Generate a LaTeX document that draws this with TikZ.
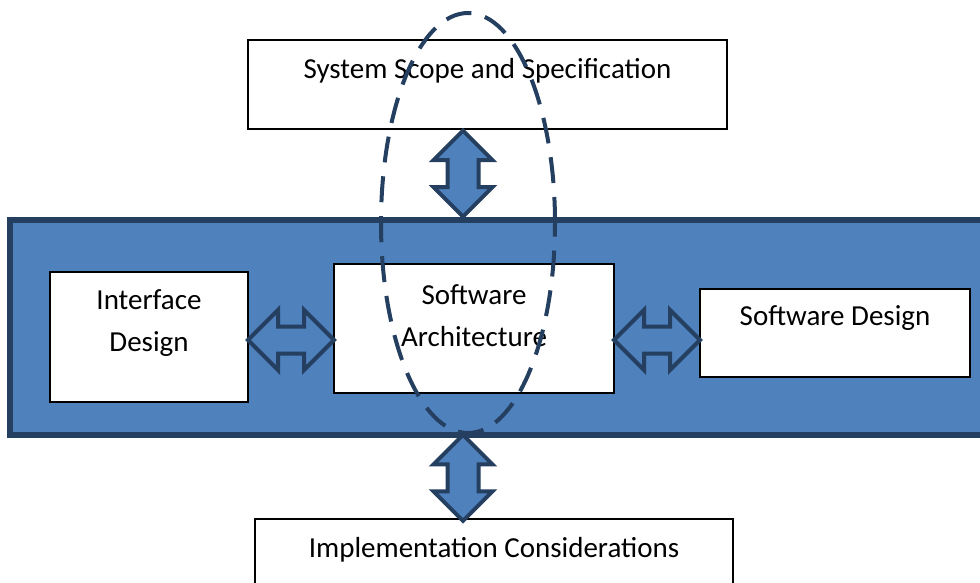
\documentclass[tikz,border=0pt]{standalone}
\usepackage{fontspec}
\setmainfont{Carlito}
\usetikzlibrary{calc,shapes.arrows,shapes.geometric}
\definecolor{bandblue}{HTML}{4F81BD}
\definecolor{darkblue}{HTML}{243F60}

\begin{document}
\begin{tikzpicture}[
    x=1pt, y=-1pt,
    every node/.style={font=\fontsize{29}{42}\selectfont},
    box/.style={rectangle, draw=black, fill=white, line width=2pt},
    band/.style={rectangle, draw=darkblue, fill=bandblue, line width=5.5pt},
    dblarrow/.style={double arrow, draw=darkblue, fill=bandblue, line width=4pt,
        minimum width=0pt, inner xsep=0pt, minimum height=86pt},
    scopeline/.style={ellipse, draw=darkblue, line width=4pt, dash pattern=on 26pt off 14pt}
]
\useasboundingbox (0,0) rectangle (980,582);

% Define nodes
\node[band, minimum width=980pt, minimum height=215pt] (panel) at (500,327.5) {};
\node[box, minimum width=479pt, minimum height=89pt,
    label={[yshift=14pt]center:System Scope and Specification}] (scope) at (487.5,84.5) {};
\node[box, minimum width=198pt, minimum height=130pt,
    label={[yshift=14pt, align=center]center:Interface\\Design}] (iface) at (149,337) {};
\node[box, minimum width=280pt, minimum height=129pt,
    label={[yshift=13pt, align=center]center:Software\\Architecture}] (arch) at (474,328.5) {};
\node[box, minimum width=270pt, minimum height=88pt,
    label={[yshift=15pt]center:Software Design}] (design) at (835,333) {};
\node[box, minimum width=478pt, minimum height=89pt,
    label={[yshift=14pt]center:Implementation Considerations}] (impl) at (494,563.5) {};

\coordinate (axis) at (463,0);
\coordinate (row) at (0,340);

% Connect nodes
\node[dblarrow, inner ysep=13.5pt, double arrow head extend=14pt, rotate=90] (uparrow)
    at ($(axis |- scope.south)!.5!(axis |- panel.north)$) {};
\node[dblarrow, inner ysep=13.5pt, double arrow head extend=14pt, rotate=90] (downarrow)
    at ($(axis |- panel.south)!.5!(axis |- impl.north)$) {};
\node[dblarrow, inner ysep=11.5pt, double arrow head extend=16.5pt] (leftarrow)
    at ($(iface.east |- row)!.5!(arch.west |- row)$) {};
\node[dblarrow, inner ysep=11.5pt, double arrow head extend=16.5pt] (rightarrow)
    at ($(arch.east |- row)!.5!(design.west |- row)$) {};

\node[scopeline, minimum width=174pt, minimum height=420pt, inner sep=0pt] (focus) at (468,223) {};

\end{tikzpicture}
\end{document}
